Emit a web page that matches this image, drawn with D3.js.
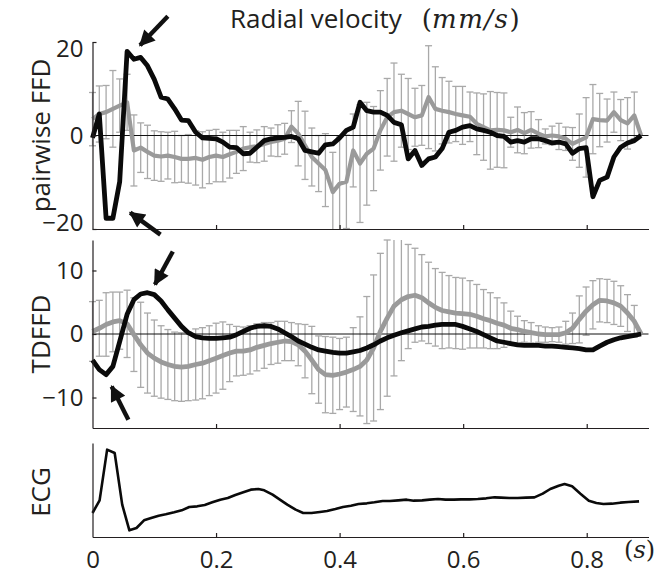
<!DOCTYPE html>
<html>
<head>
<meta charset="utf-8">
<script src="https://cdn.jsdelivr.net/npm/d3@7/dist/d3.min.js"></script>
<style>
  html, body { margin: 0; padding: 0; background: #fff; }
  svg { display: block; }
  text { font-family: "Open Sans", "Noto Sans", sans-serif; fill: #231f20; }
</style>
</head>
<body>
<svg id="chart" width="657" height="577"></svg>
<script>
// ---------- data ----------
const time = [0,0.011,0.022,0.033,0.044,0.056,0.067,0.078,0.089,0.1,
  0.111,0.122,0.133,0.144,0.155,0.167,0.178,0.189,0.2,0.211,
  0.222,0.233,0.244,0.255,0.266,0.278,0.289,0.3,0.311,0.322,
  0.333,0.344,0.355,0.366,0.377,0.389,0.4,0.411,0.422,0.433,
  0.444,0.455,0.466,0.477,0.488,0.5,0.511,0.522,0.533,0.544,
  0.555,0.566,0.577,0.588,0.599,0.611,0.622,0.633,0.644,0.655,
  0.666,0.677,0.688,0.699,0.71,0.722,0.733,0.744,0.755,0.766,
  0.777,0.788,0.799,0.81,0.821,0.833,0.844,0.855,0.866,0.877,0.888];

// pairwise FFD (top panel)
const ffdBlack = [-0.5,4.6,-17.7,-17.7,-9.9,18,16.3,16.7,14.9,12,
  8.2,7.8,5.7,3.3,3.2,0.7,-0.5,-0.6,-0.7,-1.4,
  -2.5,-2.6,-3.9,-3.8,-2.5,-1.1,-0.7,-0.5,-0.4,-0.2,
  -0.7,-3.2,-3.5,-3.8,-2.0,-1.8,-0.5,1.1,1.8,7.1,
  5.3,5.0,5.0,4.3,2.8,2.3,-5.0,-3.2,-6.4,-5.0,
  -4.6,-2.8,0.7,1.1,1.8,2.1,1.4,1.1,0.7,0,
  -0.2,-1.4,-1.1,-1.4,-0.7,-0.7,-1.1,-1.6,-1.4,-1.8,
  -3.8,-2.8,-2.6,-13.1,-9.6,-8.9,-4.6,-2.5,-1.6,-1.1,0];
const ffdGrey = [3.5,4.6,5.0,5.7,6.4,7.1,-3.2,-2.6,-3.5,-4.3,
  -4.5,-4.3,-4.6,-5.0,-5.0,-4.8,-5.2,-4.6,-4.3,-4.6,
  -4.0,-3.5,-2.8,-2.5,-2.3,-1.8,-1.4,-1.1,-0.7,1.9,
  0.4,-2.1,-4.6,-6.0,-7.4,-12.1,-10.3,-9.9,-3.2,-6.0,
  -3.9,-2.8,1.1,3.9,5.0,5.3,4.6,3.9,4.3,8.2,
  5.7,5.3,5.0,4.6,4.3,4.0,2.5,1.8,1.1,1.2,
  1.1,0.7,1.2,0.5,1.2,0.4,-0.2,0,-0.2,-0.7,
  -1.8,-1.1,-0.4,3.5,3.3,3.2,5.0,3.3,2.6,4.3,0];
const ffdErr = [5.7,6,5.7,8.2,5.7,6,7.6,5.3,5.7,5.3,
  5.3,5,5.5,5,5.2,5.8,6,5.7,5.6,5.3,
  5.1,4.6,4.7,3.2,3.5,3.7,3.0,3.4,3.3,3.4,
  6.9,7.3,6.2,6,7.8,8.5,10,10,7.8,12.6,
  11,9,8.5,8.3,10.5,7.8,7.6,6.2,6.4,11,
  9,7.1,6.6,5.9,6.2,5.3,6.6,7.1,8.3,8,
  8,3.2,4.9,4.4,3.9,3.0,1.6,2.0,2.8,2.5,
  3.5,5.7,8.5,7.4,5.7,4.6,4.3,4.4,5.5,5.0,0];

// TDFFD (middle panel)
const tdBlack = [-4.1,-5.6,-6.4,-5.1,-1.2,3.1,5.4,6.3,6.5,6.2,
  5.2,3.8,2.5,1.2,0.2,-0.4,-0.6,-0.7,-0.7,-0.6,
  -0.5,-0.1,0.4,0.9,1.2,1.3,1.2,0.8,0.2,-0.4,
  -1.1,-1.6,-2.1,-2.5,-2.7,-2.9,-3.0,-3.0,-2.8,-2.6,
  -2.2,-1.7,-1.1,-0.6,-0.2,0.2,0.5,0.8,1.1,1.2,
  1.4,1.5,1.5,1.5,1.2,0.8,0.4,-0.1,-0.6,-1.1,
  -1.3,-1.5,-1.7,-1.8,-1.8,-1.8,-1.9,-1.9,-2.0,-2.1,
  -2.2,-2.3,-2.5,-2.5,-1.9,-1.3,-0.9,-0.6,-0.4,-0.2,0];
const tdGrey = [0.4,0.9,1.5,1.9,2.1,1.6,-0.1,-1.7,-3.0,-3.8,
  -4.4,-4.8,-5.1,-5.2,-5.1,-4.8,-4.6,-4.2,-3.8,-3.4,
  -3.0,-2.7,-2.7,-2.5,-2.1,-1.8,-1.5,-1.3,-1.1,-1.2,
  -1.7,-2.7,-4.1,-5.6,-6.4,-6.5,-6.3,-6.0,-5.6,-5.1,
  -4.1,-2.2,0.4,2.5,4.4,5.4,5.9,6.1,5.7,4.9,
  4.2,3.7,3.5,3.3,3.2,3.1,2.8,2.4,2.1,1.7,
  1.4,0.9,0.7,0.4,0.2,0,-0.1,-0.1,-0.1,0.2,
  0.9,2.3,3.6,4.6,5.3,5.2,4.9,4.4,3.3,2.0,0];
const tdErr = [4.7,4.4,5,4.7,4.5,5.3,5.8,6.7,6.3,6,
  5.7,5.5,5.4,5.4,5.4,5.6,5.6,5.5,5.5,5.3,
  4.5,3.9,3.8,3.8,3.7,3.6,3.3,3.3,3.1,3.0,
  3.3,4.2,5.3,5.3,6,6,5.6,5.5,6.6,7.8,
  10,11.5,12.3,12.3,11,9.6,8.2,7.4,6.8,6.4,
  6.1,6.0,5.7,5.6,5.6,5.3,5.0,4.6,4.4,4.0,
  3.5,2.7,2.1,1.7,1.6,1.3,1.2,1.1,1.2,1.8,
  2.4,3.7,3.8,3.8,3.4,3.4,3.4,3.2,2.9,2.5,0];

// ECG (bottom panel)
const ecgTime = [0,0.0115,0.0237,0.0359,0.0481,0.0597,0.0712,0.0834,0.0949,0.1071,
  0.1186,0.1322,0.1444,0.1566,0.1695,0.1817,0.1939,0.2068,0.219,0.2312,
  0.2441,0.2563,0.2685,0.278,0.2915,0.3051,0.3153,0.3288,0.341,0.3546,
  0.3681,0.3797,0.3932,0.4054,0.4183,0.4305,0.4441,0.4563,0.4698,0.4814,
  0.4949,0.5085,0.52,0.5336,0.5458,0.5593,0.5715,0.5851,0.5966,0.6102,
  0.6237,0.6373,0.6508,0.661,0.6746,0.6881,0.7017,0.7153,0.7288,0.741,
  0.7546,0.7641,0.7763,0.7898,0.8034,0.8156,0.8271,0.8407,0.8542,0.8678,0.8847];
const ecgValue = [72,110,262,252,97,20,27,50,57,64,
  68,74,80,90,92,96,104,112,117,126,
  134,142,144,140,127,110,97,82,72,72,
  75,78,84,90,94,99,101,104,108,108,
  110,112,109,110,112,114,112,112,113,113,
  114,116,119,118,117,117,118,119,130,144,
  154,159,152,130,109,102,99,100,103,105,107];

// tick values / labels
const xTicks = [0, 0.2, 0.4, 0.6, 0.8];
const ffdTicks = [-20, 0, 20];
const tdTicks = [-10, 0, 10];
const yLabels = ["pairwise FFD", "TDFFD", "ECG"];
const titleMain = "Radial velocity";
const titleUnit = ["(", "mm/s", ")"];
const xUnit = ["(", "s", ")"];

// annotation arrows: [tailT, tailV, tipT, tipV]
const ffdArrows = [[0.122, 25.5, 0.077, 19.3], [0.11, -21.2, 0.061, -16.5]];
const tdArrows = [[0.130, 13.0, 0.101, 7.8], [0.058, -13.5, 0.031, -8.25]];

// ---------- drawing ----------
const svg = d3.select("#chart");
const x = d3.scaleLinear().domain([0, 0.9]).range([92.5, 648.5]);
const yF = d3.scaleLinear().domain([-20, 20]).range([229, 42]);
const yT = d3.scaleLinear().domain([-14.8, 14.8]).range([428, 240]);
const yE = d3.scaleLinear().domain([0, 282]).range([537, 443]);

const defs = svg.append("defs");
defs.append("marker").attr("id", "ah")
  .attr("viewBox", "0 0 10 10").attr("refX", 9).attr("refY", 5)
  .attr("markerWidth", 4).attr("markerHeight", 3.6)
  .attr("markerUnits", "strokeWidth").attr("orient", "auto")
  .append("path").attr("d", "M0,0 L10,5 L0,10 Z").attr("fill", "#111");

function errPanel(y, mean, err, black, yticks, arrows, greyW) {
  const g = svg.append("g");
  const eb = g.append("g").attr("stroke", "#a9a9a9").attr("stroke-width", 1.3).attr("fill", "none");
  time.forEach((t, i) => {
    if (err[i] <= 0) return;
    const cx = x(t), y1 = y(mean[i] + err[i]), y2 = y(mean[i] - err[i]);
    const top = Math.max(y1, y.range()[1]), bot = Math.min(y2, y.range()[0]);
    eb.append("line").attr("x1", cx).attr("x2", cx).attr("y1", top).attr("y2", bot);
    if (y1 >= y.range()[1]) eb.append("line").attr("x1", cx - 3.5).attr("x2", cx + 3.5).attr("y1", y1).attr("y2", y1);
    if (y2 <= y.range()[0]) eb.append("line").attr("x1", cx - 3.5).attr("x2", cx + 3.5).attr("y1", y2).attr("y2", y2);
  });
  g.append("line").attr("x1", x.range()[0]).attr("x2", x.range()[1])
    .attr("y1", y(0)).attr("y2", y(0)).attr("stroke", "#111").attr("stroke-width", 1);
  const line = d3.line().x((d, i) => x(time[i])).y(d => y(d));
  g.append("path").datum(mean).attr("d", line).attr("fill", "none")
    .attr("stroke", "#9a9a9a").attr("stroke-width", greyW).attr("stroke-linejoin", "round");
  g.append("path").datum(black).attr("d", line).attr("fill", "none")
    .attr("stroke", "#0a0a0a").attr("stroke-width", 4.8).attr("stroke-linejoin", "round");
  const ax = g.append("g").attr("transform", `translate(${x.range()[0]},0)`)
    .call(d3.axisLeft(y).tickValues(yticks).tickSize(-4).tickSizeOuter(0).tickPadding(9));
  styleAxis(ax);
  const bx = g.append("g").attr("transform", `translate(0,${y.range()[0]})`)
    .call(d3.axisBottom(x).tickValues(xTicks.slice(1)).tickSize(-4).tickSizeOuter(0).tickFormat(""));
  styleAxis(bx);
  arrows.forEach(a => {
    g.append("line").attr("x1", x(a[0])).attr("y1", y(a[1]))
      .attr("x2", x(a[2])).attr("y2", y(a[3]))
      .attr("stroke", "#111").attr("stroke-width", 4.4).attr("marker-end", "url(#ah)");
  });
  return ax;
}

function styleAxis(a) {
  a.select(".domain").attr("stroke", "#231f20").attr("stroke-width", 1.2);
  a.selectAll(".tick line").attr("stroke", "#231f20").attr("stroke-width", 1.2);
  a.selectAll(".tick text").style("font-family", '"Open Sans", sans-serif')
    .style("font-size", "24px").attr("fill", "#231f20");
}

const axF = errPanel(yF, ffdGrey, ffdErr, ffdBlack, ffdTicks, ffdArrows, 4.2);
axF.selectAll(".tick text").attr("dy", d => d === 20 ? "0.62em" : d === -20 ? "0.05em" : "0.32em");
errPanel(yT, tdGrey, tdErr, tdBlack, tdTicks, tdArrows, 4.8);

// ECG panel
const ge = svg.append("g");
ge.append("path").datum(ecgValue)
  .attr("d", d3.line().x((d, i) => x(ecgTime[i])).y(d => yE(d)))
  .attr("fill", "none").attr("stroke", "#0a0a0a").attr("stroke-width", 2.6).attr("stroke-linejoin", "round");
const eyAx = ge.append("g").attr("transform", `translate(${x.range()[0]},0)`)
  .call(d3.axisLeft(yE).tickValues([]).tickSizeOuter(0));
styleAxis(eyAx);
const exAx = ge.append("g").attr("transform", `translate(0,${yE.range()[0]})`)
  .call(d3.axisBottom(x).tickValues(xTicks).tickSize(-4).tickSizeOuter(0).tickPadding(14)
    .tickFormat(d => d === 0 ? "0" : d3.format(".1f")(d)));
styleAxis(exAx);
exAx.selectAll(".tick line").filter(d => d === 0).remove();

// x unit
const xu = svg.append("text").attr("x", 624).attr("y", 558).style("font-size", "24px")
  .style("font-family", '"DejaVu Serif", serif');
xu.append("tspan").text(xUnit[0]);
xu.append("tspan").text(xUnit[1]).style("font-style", "italic");
xu.append("tspan").text(xUnit[2]);

// y labels
const yLabPos = [135.5, 334, 492];
yLabels.forEach((lab, i) => {
  svg.append("text").attr("transform", `translate(50,${yLabPos[i]}) rotate(-90)`)
    .attr("text-anchor", "middle").style("font-size", "26px").text(lab);
});

// title
const tt = svg.append("text").attr("x", 230).attr("y", 28).style("font-size", "26px");
tt.append("tspan").text(titleMain);
const unitStyle = s => s.style("font-family", '"DejaVu Serif", serif').style("font-size", "26px");
tt.append("tspan").attr("dx", 20).text(titleUnit[0]).call(unitStyle);
tt.append("tspan").text(titleUnit[1]).call(unitStyle).style("font-style", "italic").style("letter-spacing", "1.5px");
tt.append("tspan").text(titleUnit[2]).call(unitStyle);
</script>
</body>
</html>
